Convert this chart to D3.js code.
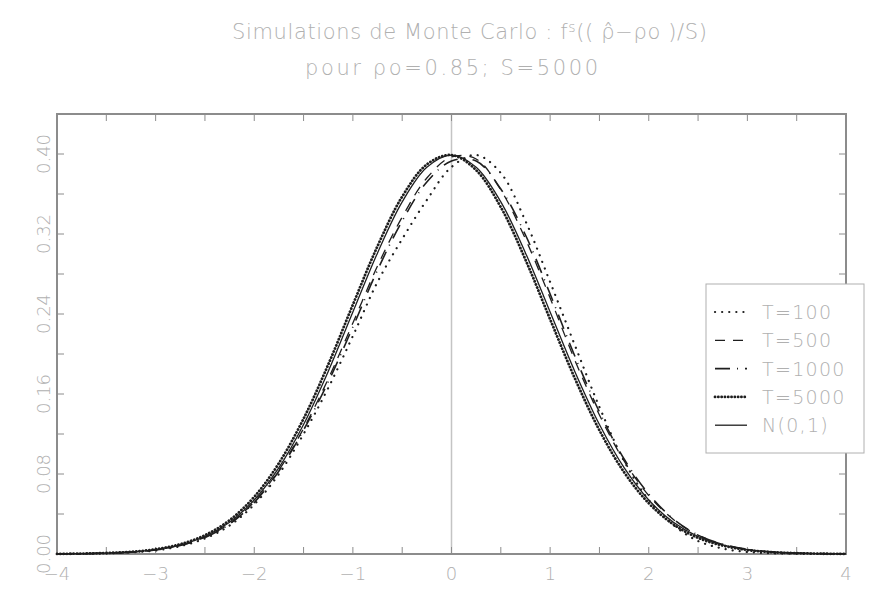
<!DOCTYPE html>
<html>
<head>
    <title>Simulations de Monte Carlo</title>
    <script src="https://d3js.org/d3.v7.min.js"></script>
    <style>
        body { margin: 0; padding: 0; background-color: #ffffff; }
        text { font-family: "DejaVu Sans", sans-serif; font-weight: 200; fill: #b0b0b0; }
    </style>
</head>
<body>
<div class="viz"></div>
<script>

// x grid (step 0.25 from -4 to 4)
var xs = [-4, -3.75, -3.5, -3.25, -3, -2.75, -2.5, -2.25, -2, -1.75, -1.5, -1.25, -1, -0.75, -0.5, -0.25,
          0, 0.25, 0.5, 0.75, 1, 1.25, 1.5, 1.75, 2, 2.25, 2.5, 2.75, 3, 3.25, 3.5, 3.75, 4];

// densities
var t100  = [0.0000, 0.0002, 0.0006, 0.0015, 0.0036, 0.0078, 0.0155, 0.0285, 0.0495, 0.0800, 0.1200, 0.1660, 0.2180, 0.2720, 0.3150, 0.3540,
             0.3870, 0.3990, 0.3810, 0.3330, 0.2720, 0.2090, 0.1470, 0.0930, 0.0540, 0.0290, 0.0130, 0.0055, 0.0020, 0.0007, 0.0002, 0.0001, 0.0000];
var t500  = [0.0001, 0.0004, 0.0009, 0.0019, 0.0042, 0.0087, 0.0168, 0.0305, 0.0522, 0.0840, 0.1255, 0.1750, 0.2310, 0.2880, 0.3370, 0.3760,
             0.3970, 0.3950, 0.3640, 0.3150, 0.2560, 0.1940, 0.1390, 0.0930, 0.0585, 0.0345, 0.0188, 0.0097, 0.0046, 0.0021, 0.0009, 0.0004, 0.0001];
var t1000 = [0.0001, 0.0003, 0.0008, 0.0018, 0.0040, 0.0085, 0.0165, 0.0300, 0.0515, 0.0830, 0.1240, 0.1720, 0.2270, 0.2840, 0.3330, 0.3720,
             0.3930, 0.3930, 0.3650, 0.3190, 0.2600, 0.1980, 0.1420, 0.0950, 0.0600, 0.0350, 0.0190, 0.0098, 0.0047, 0.0021, 0.0009, 0.0004, 0.0001];
var t5000 = [0.0001, 0.0004, 0.0010, 0.0022, 0.0048, 0.0098, 0.0188, 0.0338, 0.0572, 0.0908, 0.1353, 0.1894, 0.2493, 0.3079, 0.3574, 0.3896,
             0.3990, 0.3838, 0.3468, 0.2943, 0.2347, 0.1758, 0.1237, 0.0818, 0.0508, 0.0296, 0.0162, 0.0084, 0.0040, 0.0018, 0.0008, 0.0003, 0.0001];
var norm  = [0.0001, 0.0004, 0.0009, 0.0020, 0.0044, 0.0091, 0.0175, 0.0317, 0.0540, 0.0863, 0.1295, 0.1826, 0.2420, 0.3011, 0.3521, 0.3867,
             0.3989, 0.3867, 0.3521, 0.3011, 0.2420, 0.1826, 0.1295, 0.0863, 0.0540, 0.0317, 0.0175, 0.0091, 0.0044, 0.0020, 0.0009, 0.0004, 0.0001];

var seriesNames = ["T=100", "T=500", "T=1000", "T=5000", "N(0,1)"];
var xTickLabels = [-4, -3, -2, -1, 0, 1, 2, 3, 4];
var yTickLabels = [0.00, 0.08, 0.16, 0.24, 0.32, 0.40];

var width = 887,
    height = 604;

// plot box
var pLeft = 57, pRight = 846, pTop = 114, pBottom = 554;

var svg = d3.select(".viz").append("svg")
    .attr("width", width)
    .attr("height", height);

var x = d3.scaleLinear().domain([-4, 4]).range([pLeft, pRight]);
var y = d3.scaleLinear().domain([0, 0.44]).range([pBottom, pTop]);

// Title (stretched to the reference width)
var title = svg.append("text")
    .attr("x", 232)
    .attr("y", 39)
    .attr("textLength", 475)
    .attr("lengthAdjust", "spacing")
    .style("font-size", "21px");
title.append("tspan").text("Simulations de Monte Carlo : f");
title.append("tspan").text("s").attr("dy", -7).style("font-size", "14px");
title.append("tspan").text("(( \u03c1\u0302\u2212\u03c1o  )/S)").attr("dy", 7);

svg.append("text")
    .attr("x", 305)
    .attr("y", 75)
    .attr("textLength", 293)
    .attr("lengthAdjust", "spacing")
    .style("font-size", "21px")
    .text("pour \u03c1o=0.85; S=5000");

// zero line
svg.append("line")
    .attr("x1", x(0)).attr("x2", x(0))
    .attr("y1", pTop).attr("y2", pBottom)
    .attr("stroke", "#c4c4c4")
    .attr("stroke-width", 1.5);

// tick marks, inward on all four sides
var tickLen = 7;
var axisColor = "#8c8c8c";
d3.range(-4, 4.01, 0.5).forEach(function(v){
    svg.append("line").attr("x1", x(v)).attr("x2", x(v))
        .attr("y1", pBottom).attr("y2", pBottom - tickLen)
        .attr("stroke", axisColor).attr("stroke-width", 1);
    svg.append("line").attr("x1", x(v)).attr("x2", x(v))
        .attr("y1", pTop).attr("y2", pTop + tickLen)
        .attr("stroke", axisColor).attr("stroke-width", 1);
});
d3.range(0, 0.441, 0.04).forEach(function(v){
    svg.append("line").attr("x1", pLeft).attr("x2", pLeft + tickLen)
        .attr("y1", y(v)).attr("y2", y(v))
        .attr("stroke", axisColor).attr("stroke-width", 1);
    svg.append("line").attr("x1", pRight).attr("x2", pRight - tickLen)
        .attr("y1", y(v)).attr("y2", y(v))
        .attr("stroke", axisColor).attr("stroke-width", 1);
});

// frame
svg.append("rect")
    .attr("x", pLeft).attr("y", pTop)
    .attr("width", pRight - pLeft).attr("height", pBottom - pTop)
    .attr("fill", "none")
    .attr("stroke", axisColor)
    .attr("stroke-width", 2);

// tick labels
svg.selectAll(".xlab")
    .data(xTickLabels)
    .enter()
    .append("text")
    .attr("class", "xlab")
    .attr("x", function(d){ return x(d); })
    .attr("y", 580)
    .attr("text-anchor", "middle")
    .style("font-size", "18px")
    .text(function(d){ return d < 0 ? "\u2212" + Math.abs(d) : String(d); });

svg.selectAll(".ylab")
    .data(yTickLabels)
    .enter()
    .append("text")
    .attr("class", "ylab")
    .attr("transform", function(d){ return "translate(50," + y(d) + ") rotate(-90)"; })
    .attr("text-anchor", "middle")
    .style("font-size", "18px")
    .text(function(d){ return d.toFixed(2); });

// curves
var styles = [
    {data: t100,  dash: "0.1,7",     width: 2.2, cap: "round"},
    {data: t500,  dash: "10,8",      width: 1.3, cap: "butt"},
    {data: t1000, dash: "15,7,1,7",  width: 1.6, cap: "butt"},
    {data: t5000, dash: "0.1,3.2",   width: 2.8, cap: "round"},
    {data: norm,  dash: null,        width: 1.3, cap: "butt"}
];

var line = d3.line()
    .x(function(d){ return x(d[0]); })
    .y(function(d){ return y(d[1]); })
    .curve(d3.curveCatmullRom);

styles.forEach(function(s){
    svg.append("path")
        .datum(xs.map(function(v, i){ return [v, s.data[i]]; }))
        .attr("d", line)
        .attr("fill", "none")
        .attr("stroke", "#1e1e1e")
        .attr("stroke-width", s.width)
        .attr("stroke-linecap", s.cap)
        .attr("stroke-dasharray", s.dash);
});

// legend
var legend = svg.append("g");
legend.append("rect")
    .attr("x", 706).attr("y", 284)
    .attr("width", 158).attr("height", 169)
    .attr("fill", "#ffffff")
    .attr("stroke", "#b0b0b0")
    .attr("stroke-width", 1);

styles.forEach(function(s, i){
    var ly = 312 + i * 28.3;
    legend.append("line")
        .attr("x1", 715).attr("x2", 747)
        .attr("y1", ly).attr("y2", ly)
        .attr("stroke", "#1e1e1e")
        .attr("stroke-width", s.width)
        .attr("stroke-linecap", s.cap)
        .attr("stroke-dasharray", s.dash);
    legend.append("text")
        .attr("x", 762)
        .attr("y", ly + 7)
        .style("font-size", "19px")
        .style("letter-spacing", "1.3px")
        .text(seriesNames[i]);
});

</script>
</body>
</html>
